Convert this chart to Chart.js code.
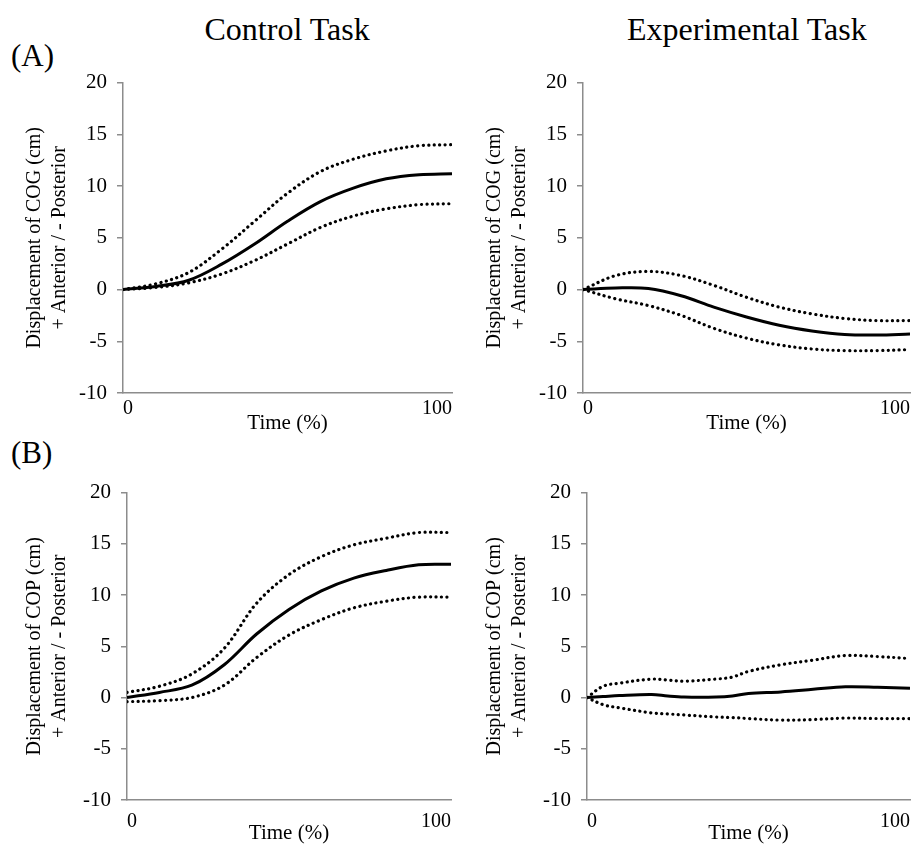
<!DOCTYPE html>
<html>
<head>
<meta charset="utf-8">
<script src="https://cdn.jsdelivr.net/npm/chart.js@4.4.0/dist/chart.umd.min.js"></script>
<style>
  body { margin: 0; background: #fff; }
  #page { position: relative; width: 922px; height: 846px; font-family: 'Liberation Serif', 'Times New Roman', serif; color: #000; }
  .txt { position: absolute; white-space: nowrap; line-height: 1; }
  canvas { position: absolute; }
</style>
</head>
<body>
<div id="page">
  <div class="txt" id="tCtrl" style="font-size:32px;">Control Task</div>
  <div class="txt" id="tExp" style="font-size:32px;">Experimental Task</div>
  <div class="txt" style="font-size:31px; left:11px; top:40px;">(A)</div>
  <div class="txt" style="font-size:31px; left:11px; top:437px;">(B)</div>
  <canvas id="cogCtrl" width="470" height="380" style="left:0px; top:60px;"></canvas>
  <canvas id="cogExp" width="462" height="380" style="left:460px; top:60px;"></canvas>
  <canvas id="copCtrl" width="470" height="376" style="left:0px; top:470px;"></canvas>
  <canvas id="copExp" width="462" height="376" style="left:460px; top:470px;"></canvas>
</div>
<script>
// time (%) sample points
let time = [0, 10, 20, 30, 40, 50, 60, 70, 80, 90, 100]
let timeBe = [0, 5, 10, 20, 25, 30, 40, 45, 50, 60, 70, 80, 90, 100]

// (A) COG, control task
let cogCtrlMean  = [0, 0.3, 0.9, 2.45, 4.4, 6.6, 8.5, 9.8, 10.7, 11.1, 11.2]
let cogCtrlUpper = [0, 0.55, 1.65, 3.9, 6.6, 9.3, 11.4, 12.6, 13.4, 13.9, 14.0]
let cogCtrlLower = [0, 0.2, 0.65, 1.5, 2.8, 4.4, 6.0, 7.1, 7.8, 8.2, 8.3]

// (A) COG, experimental task
let cogExpMean  = [0, 0.15, 0.1, -0.6, -1.7, -2.65, -3.45, -4.0, -4.35, -4.4, -4.3]
let cogExpUpper = [0, 1.35, 1.75, 1.35, 0.4, -0.75, -1.7, -2.35, -2.8, -3.0, -3.0]
let cogExpLower = [0, -0.9, -1.55, -2.5, -3.75, -4.7, -5.35, -5.75, -5.9, -5.9, -5.8]

// (B) COP, control task
let copCtrlMean  = [0, 0.5, 1.2, 3.2, 6.2, 8.6, 10.4, 11.65, 12.4, 12.95, 13.0]
let copCtrlUpper = [0.5, 1.1, 2.3, 4.8, 9.2, 12.0, 13.75, 14.9, 15.55, 16.1, 16.1]
let copCtrlLower = [-0.4, -0.3, 0, 1.2, 3.9, 6.1, 7.6, 8.75, 9.4, 9.8, 9.8]

// (B) COP, experimental task
let copExpMean  = [0, 0.1, 0.2, 0.3, 0.15, 0.05, 0.05, 0.15, 0.4, 0.55, 0.8, 1.05, 1.0, 0.9]
let copExpUpper = [0, 1.1, 1.4, 1.8, 1.7, 1.6, 1.8, 2.0, 2.55, 3.2, 3.65, 4.1, 4.0, 3.8]
let copExpLower = [0, -0.7, -1.0, -1.5, -1.6, -1.7, -1.9, -1.95, -2.05, -2.2, -2.15, -2.0, -2.05, -2.05]

let yTicks = [-10, -5, 0, 5, 10, 15, 20]
let xTicks = [0, 100]

let serif = "'Liberation Serif', 'Times New Roman', serif"
let axisGray = '#8c8c8c'

function pts(xs, ys) {
  return xs.map((x, i) => ({ x: x, y: ys[i] }))
}

// geo: canvas left/top, plot box in page coords, tick/title offsets under the axis
function makePanel(id, geo, xs, mean, upper, lower, yTitle) {
  let cv = document.getElementById(id)
  let W = cv.width, H = cv.height
  let padTop = geo.plotTop - geo.top
  let padRight = W - (geo.plotRight - geo.left)
  let xScaleH = geo.xScaleH
  let padBottom = H - (geo.plotBottom - geo.top) - xScaleH

  let dotted = {
    borderColor: '#000', borderWidth: 3.2, borderDash: [0.1, 5.4], borderCapStyle: 'round',
    pointRadius: 0, fill: false, tension: 0.35
  }

  new Chart(cv, {
    type: 'line',
    data: {
      datasets: [
        Object.assign({ label: 'upper', data: pts(xs, upper) }, dotted),
        Object.assign({ label: 'lower', data: pts(xs, lower) }, dotted),
        { label: 'mean', data: pts(xs, mean), borderColor: '#000', borderWidth: 3,
          pointRadius: 0, fill: false, tension: 0.35 }
      ]
    },
    options: {
      responsive: false,
      animation: false,
      devicePixelRatio: 1,
      layout: { padding: { top: padTop, right: padRight, bottom: padBottom, left: 0 } },
      plugins: { legend: { display: false }, tooltip: { enabled: false } },
      scales: {
        x: {
          type: 'linear', min: 0, max: 100,
          afterBuildTicks: (s) => { s.ticks = xTicks.map(v => ({ value: v })) },
          afterFit: (s) => { s.height = xScaleH },
          grid: { display: false, drawTicks: false },
          border: { color: axisGray, width: 1.5 },
          ticks: { align: 'inner', padding: geo.xTickPad, color: '#000', font: { family: serif, size: 20 }, maxRotation: 0 },
          title: { display: true, text: 'Time (%)', color: '#000', font: { family: serif, size: 21, lineHeight: 1.2 },
                   padding: { top: 0, bottom: geo.xTitlePad } }
        },
        y: {
          min: -10, max: 20,
          afterBuildTicks: (s) => { s.ticks = yTicks.map(v => ({ value: v })) },
          afterFit: (s) => { s.width = geo.plotLeft - geo.left },
          grid: { drawOnChartArea: false, drawTicks: true, tickLength: 6, color: axisGray, lineWidth: 1.5 },
          border: { color: axisGray, width: 1.5 },
          ticks: { padding: 10, color: '#000', font: { family: serif, size: 21 } },
          title: { display: true, text: yTitle, color: '#000', font: { family: serif, size: 20, lineHeight: 1.25 },
                   padding: { top: 22, bottom: 0 } }
        }
      }
    }
  })
}

let cogTitle = ['Displacement of COG (cm)', '+ Anterior / - Posterior']
let copTitle = ['Displacement of COP (cm)', '+ Anterior / - Posterior']

makePanel('cogCtrl', { left: 0, top: 60, plotLeft: 123, plotTop: 80, plotRight: 452, plotBottom: 393, xTickPad: 4, xScaleH: 44, xTitlePad: 0.5 },
  time, cogCtrlMean, cogCtrlUpper, cogCtrlLower, cogTitle)
makePanel('cogExp', { left: 460, top: 60, plotLeft: 583, plotTop: 80, plotRight: 910, plotBottom: 393, xTickPad: 4, xScaleH: 44, xTitlePad: 0.5 },
  time, cogExpMean, cogExpUpper, cogExpLower, cogTitle)
makePanel('copCtrl', { left: 0, top: 470, plotLeft: 127, plotTop: 492, plotRight: 451, plotBottom: 800, xTickPad: 10, xScaleH: 46, xTitlePad: 0 },
  time, copCtrlMean, copCtrlUpper, copCtrlLower, copTitle)
makePanel('copExp', { left: 460, top: 470, plotLeft: 587, plotTop: 492, plotRight: 910, plotBottom: 800, xTickPad: 10, xScaleH: 46, xTitlePad: 0 },
  timeBe, copExpMean, copExpUpper, copExpLower, copTitle)

// column headings centred over the plot areas
function centre(id, cx, cy) {
  let el = document.getElementById(id)
  el.style.left = (cx - el.offsetWidth / 2) + 'px'
  el.style.top = (cy - el.offsetHeight / 2) + 'px'
}
centre('tCtrl', 287, 29)
centre('tExp', 747, 29)
</script>
</body>
</html>
